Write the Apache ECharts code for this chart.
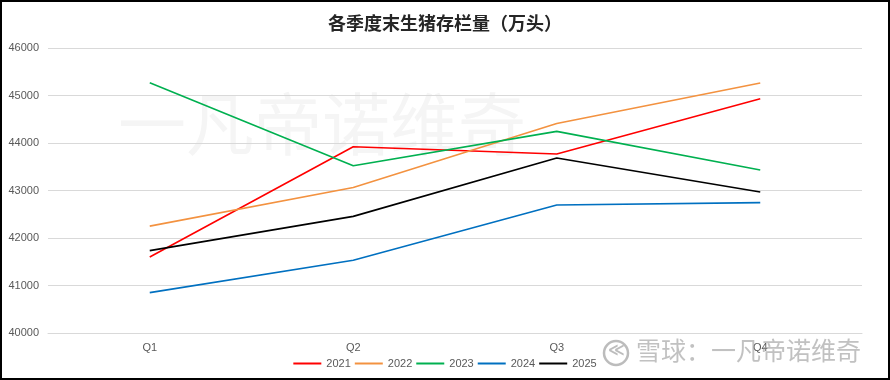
<!DOCTYPE html>
<html><head><meta charset="utf-8">
<script src="https://cdn.jsdelivr.net/npm/echarts@6/dist/echarts.min.js"></script>
<style>
html,body{margin:0;padding:0;background:#fff;}
#wrap{width:890px;height:380px;box-sizing:border-box;border:2px solid #000;}
#c{width:886px;height:376px;}
</style></head>
<body><div id="wrap"><div id="c"></div></div>
<script>
const categories = ['Q1','Q2','Q3','Q4'];
const seriesNames = ['2021','2022','2023','2024','2025'];
const v2021 = [41600, 43920, 43770, 44930];
const v2022 = [42250, 43065, 44410, 45265];
const v2023 = [45270, 43520, 44245, 43430];
const v2024 = [40850, 41530, 42695, 42745];
const v2025 = [41735, 42455, 43685, 42970];
const colors = ['#FF0000','#F39240','#00B050','#0070C0','#000000'];
const allValues = [v2021, v2022, v2023, v2024, v2025];

const chart = echarts.init(document.getElementById('c'));
chart.setOption({
  animation:false,
  title:{text:'各季度末生猪存栏量（万头）',left:'center',top:7,
    textStyle:{fontFamily:'Noto Sans CJK SC',fontSize:18,fontWeight:'bold',color:'#262626'}},
  graphic:[
    {type:'text',left:116,top:88,z:0,silent:true,
     style:{text:'一凡帝诺维奇',font:'68px "Noto Sans CJK SC"',fill:'#f5f5f5'}},
    {type:'circle',shape:{cx:614,cy:351,r:12},z:100,silent:true,
     style:{fill:'none',stroke:'rgba(160,160,160,0.7)',lineWidth:2.5}},
    {type:'text',left:606,top:341,z:100,silent:true,
     style:{text:'≪',font:'bold 16px "DejaVu Sans"',fill:'rgba(160,160,160,0.7)'}},
    {type:'text',left:634,top:336,z:100,silent:true,
     style:{text:'雪球：一凡帝诺维奇',font:'25px "Noto Sans CJK SC"',fill:'rgba(160,160,160,0.65)'}}
  ],
  legend:{bottom:4,left:'center',itemWidth:28,itemHeight:2,itemGap:4,
    icon:'rect',
    textStyle:{fontFamily:'Liberation Sans',fontSize:11,color:'#595959'},
    data:seriesNames},
  grid:{left:46,right:26,top:46,bottom:45},
  xAxis:{type:'category',data:categories,boundaryGap:true,
    axisLine:{lineStyle:{color:'#d9d9d9'}},axisTick:{show:false},
    axisLabel:{color:'#595959',fontFamily:'Liberation Sans',fontSize:11,margin:9}},
  yAxis:{type:'value',min:40000,max:46000,interval:1000,
    axisLine:{show:false},axisTick:{show:false},
    splitLine:{lineStyle:{color:'#d9d9d9'}},
    axisLabel:{color:'#595959',fontFamily:'Liberation Sans',fontSize:11,margin:9,
      formatter:v=>String(v)}},
  series: seriesNames.map((n,i)=>({
    name:n,type:'line',data:allValues[i],symbol:'none',
    lineStyle:{width:1.6,color:colors[i]},itemStyle:{color:colors[i]},z:3
  }))
});
</script></body></html>
